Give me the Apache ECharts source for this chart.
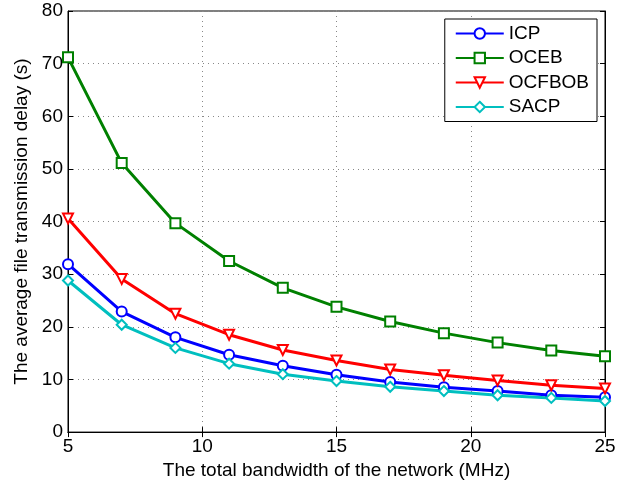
<!DOCTYPE html>
<html>
<head>
<meta charset="utf-8">
<script src="https://cdn.jsdelivr.net/npm/echarts@6/dist/echarts.min.js"></script>
<style>
  html, body { margin: 0; padding: 0; background: #fff; }
  #chart { width: 640px; height: 485px; }
</style>
</head>
<body>
<div id="chart"></div>
<script>
// bandwidth (MHz)
const bandwidth = [5, 7, 9, 11, 13, 15, 17, 19, 21, 23, 25];
const icp    = [31.9, 22.9, 18.0, 14.7, 12.6, 10.9, 9.5, 8.5, 7.8, 7.0, 6.6];
const oceb   = [71.2, 51.1, 39.7, 32.5, 27.4, 23.8, 21.0, 18.8, 17.0, 15.5, 14.4];
const ocfbob = [40.6, 29.1, 22.5, 18.5, 15.6, 13.6, 11.9, 10.8, 9.8, 8.9, 8.3];
const sacp   = [28.8, 20.4, 16.0, 13.0, 11.0, 9.7, 8.6, 7.8, 7.0, 6.5, 5.9];

const FONT = 'Liberation Sans, Arial, sans-serif';
const FS = 19;
const pairs = ys => bandwidth.map((x, i) => [x, ys[i]]);

const mk = (name, ys, color, symbol, rotate) => ({
  name, type: 'line', data: pairs(ys),
  symbol, symbolSize: 10, symbolRotate: rotate || 0,
  showAllSymbol: true,
  lineStyle: { color, width: 3 },
  itemStyle: { color, borderColor: color, borderWidth: 2.2 },
  emphasis: { disabled: true }
});

const chart = echarts.init(document.getElementById('chart'));
const gridLine = { show: true, lineStyle: { color: '#888', type: [1, 4], width: 1 } };
chart.setOption({
  animation: false,
  backgroundColor: '#fff',
  grid: { left: 68, right: 35, top: 11, bottom: 51, show: true, borderColor: '#000', borderWidth: 1 },
  xAxis: [{
    type: 'value', min: 5, max: 25, interval: 5,
    name: 'The total bandwidth of the network (MHz)',
    nameLocation: 'middle', nameGap: 27,
    nameTextStyle: { fontFamily: FONT, fontSize: FS, color: '#000' },
    axisLine: { lineStyle: { color: '#000' } },
    axisTick: { inside: true, length: 5, lineStyle: { color: '#000' } },
    axisLabel: { fontFamily: FONT, fontSize: FS, color: '#000', margin: 5 },
    splitLine: gridLine
  }, {
    type: 'value', min: 5, max: 25, interval: 5, position: 'top',
    axisLine: { lineStyle: { color: '#000' } },
    axisTick: { inside: true, length: 5, lineStyle: { color: '#000' } },
    axisLabel: { show: false }, splitLine: { show: false }
  }],
  yAxis: [{
    type: 'value', min: 0, max: 80, interval: 10,
    name: 'The average file transmission delay (s)',
    nameLocation: 'middle', nameGap: 35,
    nameTextStyle: { fontFamily: FONT, fontSize: FS, color: '#000' },
    axisLine: { show: true, lineStyle: { color: '#000' } },
    axisTick: { show: true, inside: true, length: 5, lineStyle: { color: '#000' } },
    axisLabel: { fontFamily: FONT, fontSize: FS, color: '#000', margin: 5 },
    splitLine: gridLine
  }, {
    type: 'value', min: 0, max: 80, interval: 10, position: 'right',
    axisLine: { show: true, lineStyle: { color: '#000' } },
    axisTick: { show: true, inside: true, length: 5, lineStyle: { color: '#000' } },
    axisLabel: { show: false }, splitLine: { show: false }
  }],
  legend: {
    orient: 'vertical', right: 43, top: 19,
    backgroundColor: '#fff', borderColor: '#000', borderWidth: 1,
    padding: [5, 8, 5, 10], itemGap: 5.5, itemWidth: 48, itemHeight: 13,
    textStyle: { fontFamily: FONT, fontSize: FS, color: '#000' },
    data: ['ICP', 'OCEB', 'OCFBOB', 'SACP']
  },
  series: [
    mk('ICP', icp, '#0000ff', 'emptyCircle'),
    mk('OCEB', oceb, '#008000', 'emptyRect'),
    mk('OCFBOB', ocfbob, '#ff0000', 'emptyTriangle', 180),
    mk('SACP', sacp, '#00bfbf', 'emptyDiamond')
  ]
});
</script>
</body>
</html>
